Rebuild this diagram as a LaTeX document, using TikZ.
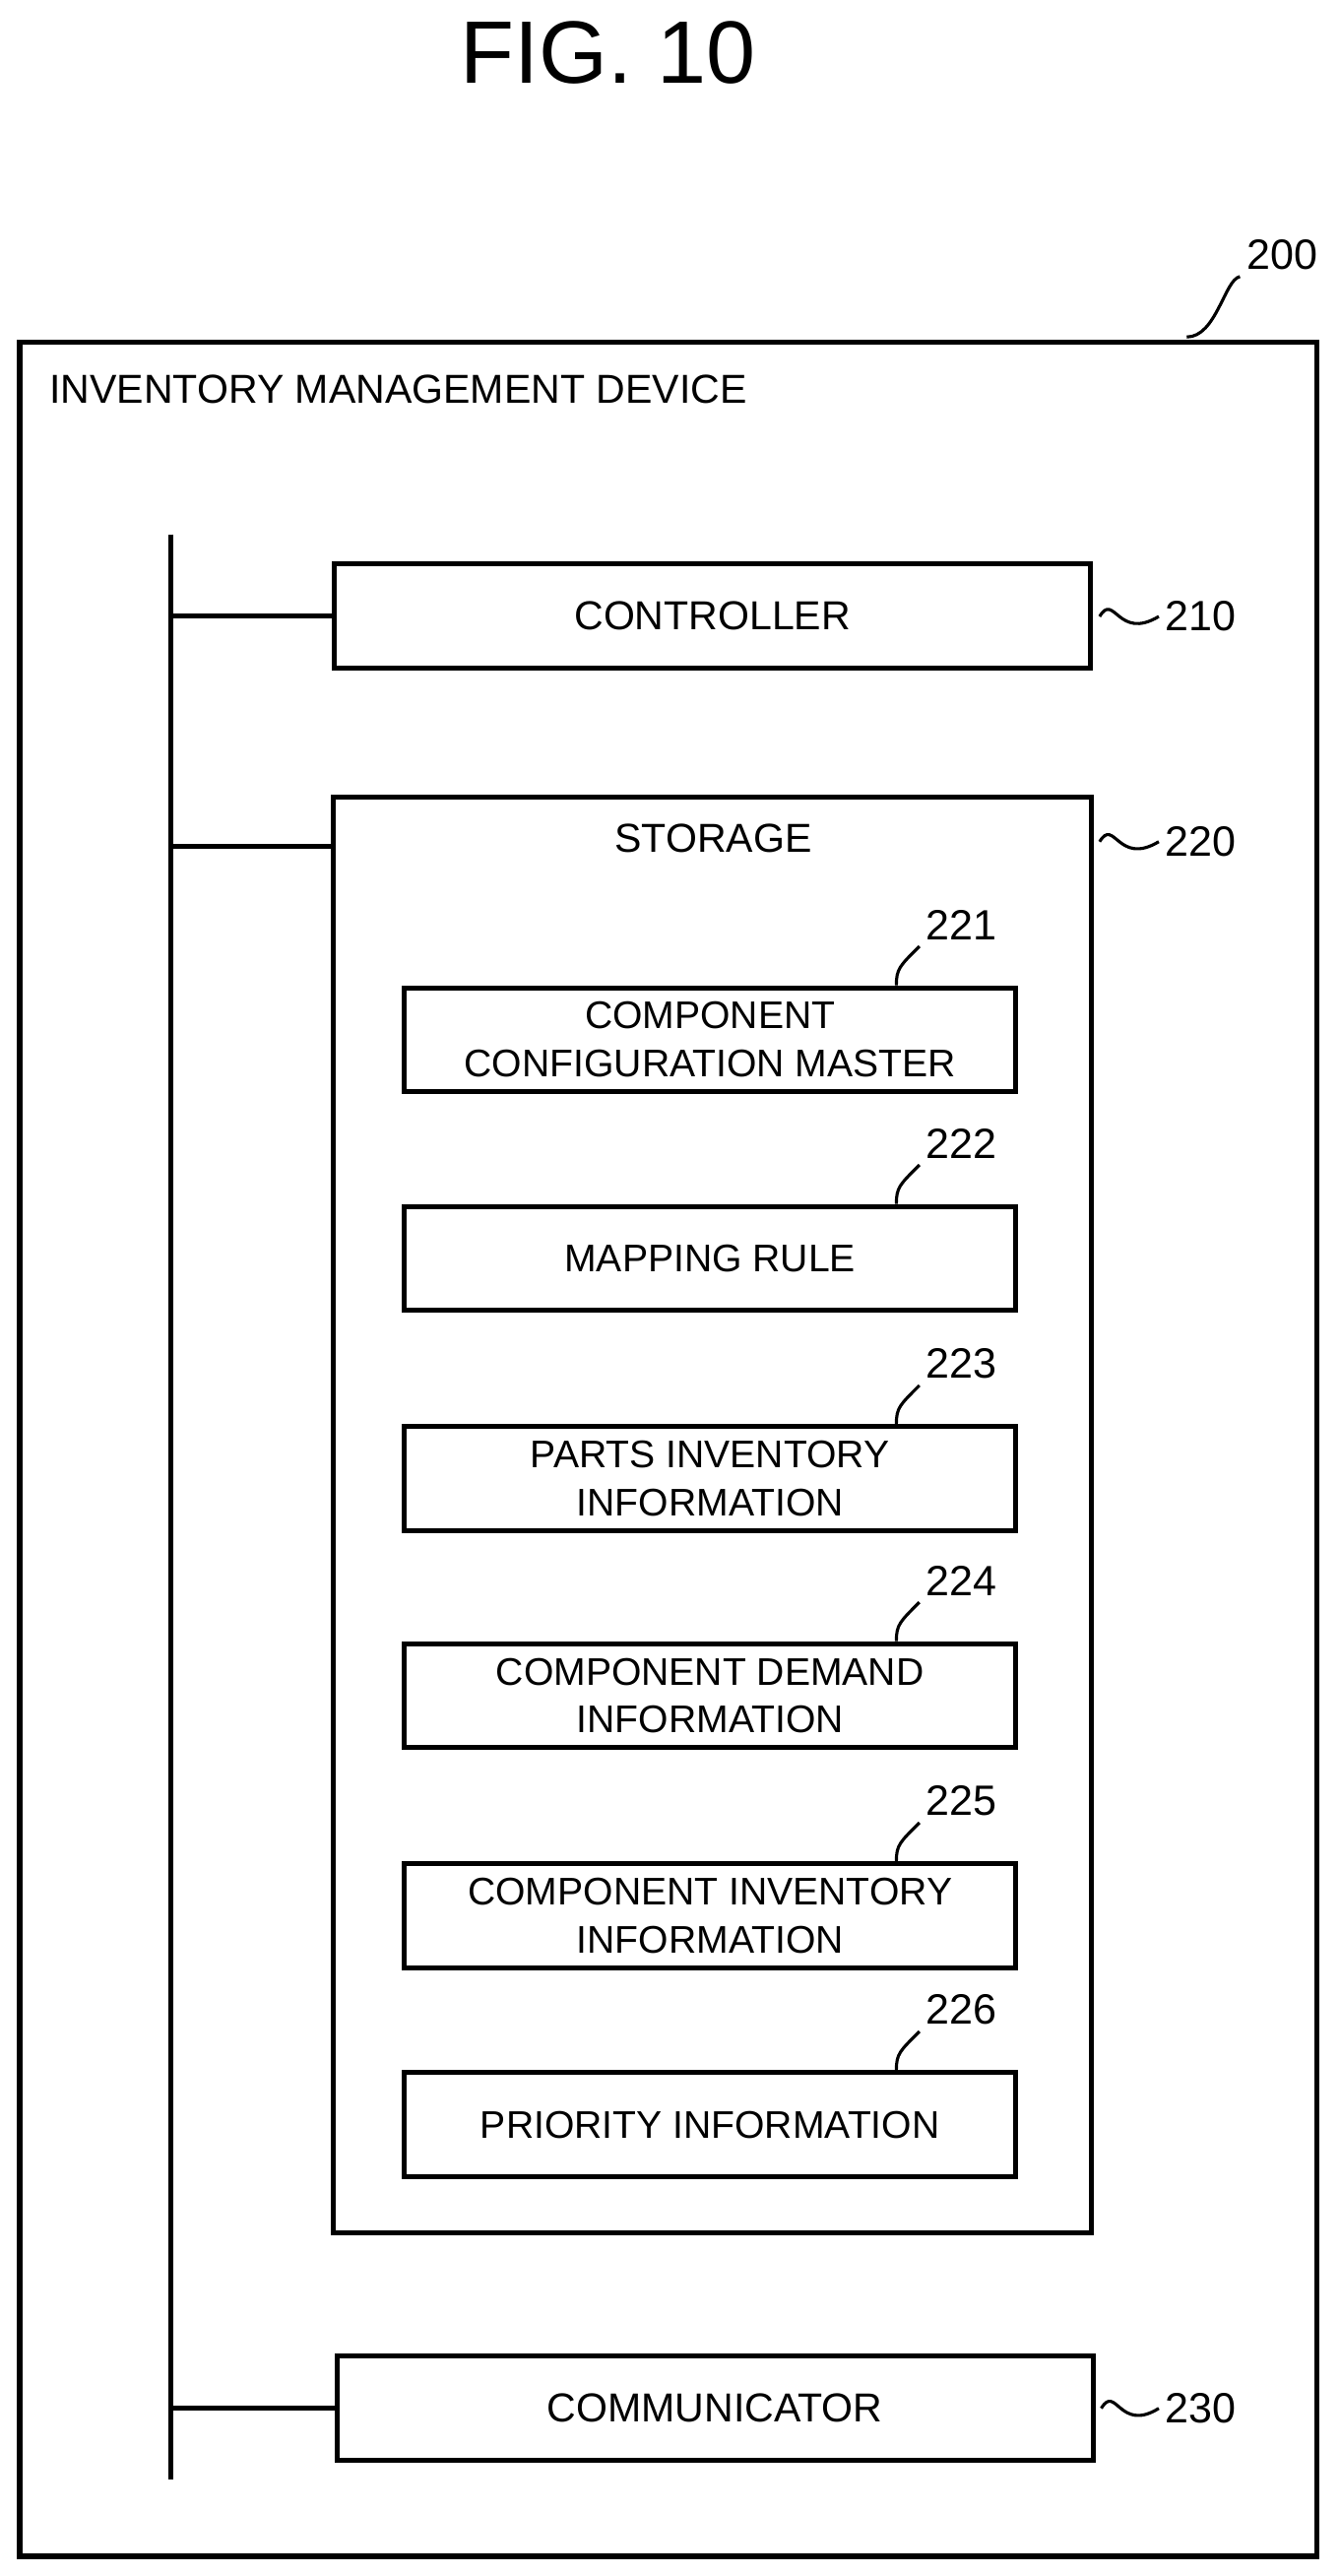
\documentclass[tikz,border=0pt]{standalone}
\usepackage{fontspec}
\setmainfont{Liberation Sans}
\usetikzlibrary{positioning}
\tikzset{
  blk/.style={draw, line width=2.6pt, minimum width=13.8cm, minimum height=1.9cm, align=center, inner sep=0pt},
  sub/.style={draw, line width=2.6pt, minimum width=11.16cm, minimum height=1.9cm, align=center, inner sep=0pt, font=\fontsize{20}{25}\selectfont},
  refno/.style={font=\fontsize{22}{24}\selectfont},
  wire/.style={line width=2.6pt},
  lead/.style={line width=1.6pt}
}
\begin{document}
\begin{tikzpicture}[x=0.03cm,y=-0.03cm, font=\fontsize{21}{25}\selectfont]
\useasboundingbox (0,0) rectangle (815,1567);
\node[font=\fontsize{46}{50}\selectfont] (title) at (370,32) {FIG. 10};
% outer device
\draw[wire] (12,208) rectangle (801,1555);
\node[anchor=west] (devname) at (26,237) {INVENTORY MANAGEMENT DEVICE};
\node[refno] (n200) at (780,155) {200};
\coordinate (c200) at (722,205);
\draw[lead] (c200) .. controls (740,205) and (745,170) .. (n200.south west);
% bus
\coordinate (busTop) at (104,325);
\coordinate (busBot) at (104,1508);
\draw[wire] (busTop) -- (busBot);
% controller
\node[blk] (ctrl) at (433.5,374.5) {CONTROLLER};
\node[refno, anchor=west] (n210) at (705,375) {210};
\coordinate (t210) at (669,375);
\draw[lead] (t210) .. controls (678,360) and (680,390) .. (n210.west);
% storage
\draw[wire] (203,485) rectangle (664,1358);
\node (storname) at (434,510) {STORAGE};
\node[refno, anchor=west] (n220) at (705,512) {220};
\coordinate (t220) at (669,512);
\draw[lead] (t220) .. controls (678,497) and (680,527) .. (n220.west);
% storage contents
\foreach \y/\n/\txt in {632.5/221/{COMPONENT\\CONFIGURATION MASTER},
                        765.5/222/{MAPPING RULE},
                        899.5/223/{PARTS INVENTORY\\INFORMATION},
                        1031.5/224/{COMPONENT DEMAND\\INFORMATION},
                        1165.5/225/{COMPONENT INVENTORY\\INFORMATION},
                        1292.5/226/{PRIORITY INFORMATION}}
{
  \node[sub] (box\n) at (432,\y) {\txt};
  \node[refno] (num\n) at (585,\y-70) {\n};
  \draw[lead] ([xshift=3.4cm]box\n.north) .. controls +(0,-10) and +(-12,12) .. (num\n.south west);
}
% communicator
\node[blk] (comm) at (435,1465) {COMMUNICATOR};
\node[refno, anchor=west] (n230) at (705,1465) {230};
\coordinate (t230) at (670,1465);
\draw[lead] (t230) .. controls (679,1450) and (681,1480) .. (n230.west);
% bus taps
\foreach \b/\yy in {ctrl/374.5, comm/1465}
  \draw[wire] (104,\yy) -- (\b.west);
\draw[wire] (104,515) -- (203,515);
\end{tikzpicture}
\end{document}
